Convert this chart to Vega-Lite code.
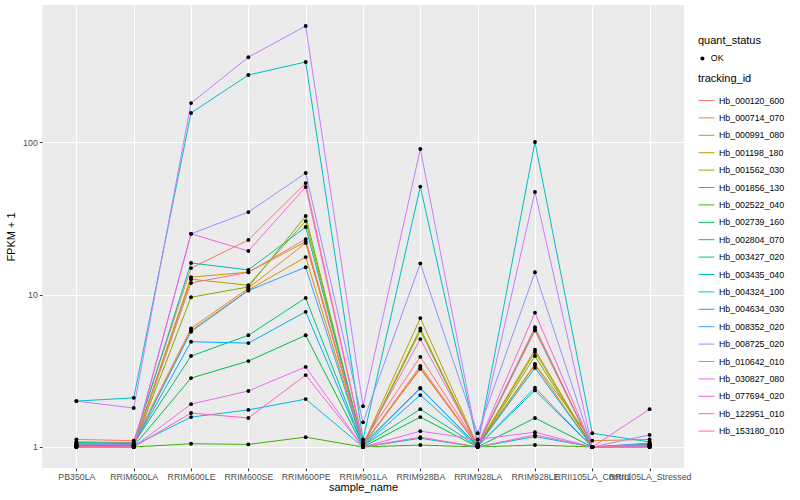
{
"$schema":"https://vega.github.io/schema/vega-lite/v6.json",
"width":642,"height":463,
"padding":{"left":5,"top":5,"right":5,"bottom":5},
"datasets":{"d":[
{"t":"Hb_000120_600","s":"PB350LA","f":1.12},{"t":"Hb_000120_600","s":"RRIM600LA","f":1.10},{"t":"Hb_000120_600","s":"RRIM600LE","f":14.9},{"t":"Hb_000120_600","s":"RRIM600SE","f":22.8},{"t":"Hb_000120_600","s":"RRIM600PE","f":53.8},{"t":"Hb_000120_600","s":"RRIM901LA","f":1.08},{"t":"Hb_000120_600","s":"RRIM928BA","f":3.9},{"t":"Hb_000120_600","s":"RRIM928LA","f":1.03},{"t":"Hb_000120_600","s":"RRIM928LE","f":6.1},{"t":"Hb_000120_600","s":"RRII105LA_Control","f":1.0},{"t":"Hb_000120_600","s":"RRII105LA_Stressed","f":1.04},
{"t":"Hb_000714_070","s":"PB350LA","f":1.08},{"t":"Hb_000714_070","s":"RRIM600LA","f":1.07},{"t":"Hb_000714_070","s":"RRIM600LE","f":6.0},{"t":"Hb_000714_070","s":"RRIM600SE","f":11.0},{"t":"Hb_000714_070","s":"RRIM600PE","f":21.8},{"t":"Hb_000714_070","s":"RRIM901LA","f":1.04},{"t":"Hb_000714_070","s":"RRIM928BA","f":3.25},{"t":"Hb_000714_070","s":"RRIM928LA","f":1.02},{"t":"Hb_000714_070","s":"RRIM928LE","f":3.5},{"t":"Hb_000714_070","s":"RRII105LA_Control","f":1.1},{"t":"Hb_000714_070","s":"RRII105LA_Stressed","f":1.12},
{"t":"Hb_000991_080","s":"PB350LA","f":1.04},{"t":"Hb_000991_080","s":"RRIM600LA","f":1.03},{"t":"Hb_000991_080","s":"RRIM600LE","f":5.8},{"t":"Hb_000991_080","s":"RRIM600SE","f":10.7},{"t":"Hb_000991_080","s":"RRIM600PE","f":17.6},{"t":"Hb_000991_080","s":"RRIM901LA","f":1.02},{"t":"Hb_000991_080","s":"RRIM928BA","f":3.3},{"t":"Hb_000991_080","s":"RRIM928LA","f":1.01},{"t":"Hb_000991_080","s":"RRIM928LE","f":3.45},{"t":"Hb_000991_080","s":"RRII105LA_Control","f":1.0},{"t":"Hb_000991_080","s":"RRII105LA_Stressed","f":1.02},
{"t":"Hb_001198_180","s":"PB350LA","f":1.03},{"t":"Hb_001198_180","s":"RRIM600LA","f":1.02},{"t":"Hb_001198_180","s":"RRIM600LE","f":13.0},{"t":"Hb_001198_180","s":"RRIM600SE","f":14.0},{"t":"Hb_001198_180","s":"RRIM600PE","f":22.2},{"t":"Hb_001198_180","s":"RRIM901LA","f":1.03},{"t":"Hb_001198_180","s":"RRIM928BA","f":7.0},{"t":"Hb_001198_180","s":"RRIM928LA","f":1.02},{"t":"Hb_001198_180","s":"RRIM928LE","f":4.35},{"t":"Hb_001198_180","s":"RRII105LA_Control","f":1.0},{"t":"Hb_001198_180","s":"RRII105LA_Stressed","f":1.05},
{"t":"Hb_001562_030","s":"PB350LA","f":1.02},{"t":"Hb_001562_030","s":"RRIM600LA","f":1.02},{"t":"Hb_001562_030","s":"RRIM600LE","f":12.6},{"t":"Hb_001562_030","s":"RRIM600SE","f":11.5},{"t":"Hb_001562_030","s":"RRIM600PE","f":30.3},{"t":"Hb_001562_030","s":"RRIM901LA","f":1.02},{"t":"Hb_001562_030","s":"RRIM928BA","f":6.0},{"t":"Hb_001562_030","s":"RRIM928LA","f":1.01},{"t":"Hb_001562_030","s":"RRIM928LE","f":4.2},{"t":"Hb_001562_030","s":"RRII105LA_Control","f":1.0},{"t":"Hb_001562_030","s":"RRII105LA_Stressed","f":1.03},
{"t":"Hb_001856_130","s":"PB350LA","f":1.02},{"t":"Hb_001856_130","s":"RRIM600LA","f":1.01},{"t":"Hb_001856_130","s":"RRIM600LE","f":9.6},{"t":"Hb_001856_130","s":"RRIM600SE","f":11.2},{"t":"Hb_001856_130","s":"RRIM600PE","f":32.7},{"t":"Hb_001856_130","s":"RRIM901LA","f":1.01},{"t":"Hb_001856_130","s":"RRIM928BA","f":5.8},{"t":"Hb_001856_130","s":"RRIM928LA","f":1.0},{"t":"Hb_001856_130","s":"RRIM928LE","f":3.95},{"t":"Hb_001856_130","s":"RRII105LA_Control","f":1.0},{"t":"Hb_001856_130","s":"RRII105LA_Stressed","f":1.02},
{"t":"Hb_002522_040","s":"PB350LA","f":1.0},{"t":"Hb_002522_040","s":"RRIM600LA","f":1.0},{"t":"Hb_002522_040","s":"RRIM600LE","f":1.05},{"t":"Hb_002522_040","s":"RRIM600SE","f":1.04},{"t":"Hb_002522_040","s":"RRIM600PE","f":1.16},{"t":"Hb_002522_040","s":"RRIM901LA","f":1.0},{"t":"Hb_002522_040","s":"RRIM928BA","f":1.03},{"t":"Hb_002522_040","s":"RRIM928LA","f":1.0},{"t":"Hb_002522_040","s":"RRIM928LE","f":1.03},{"t":"Hb_002522_040","s":"RRII105LA_Control","f":1.0},{"t":"Hb_002522_040","s":"RRII105LA_Stressed","f":1.0},
{"t":"Hb_002739_160","s":"PB350LA","f":1.01},{"t":"Hb_002739_160","s":"RRIM600LA","f":1.01},{"t":"Hb_002739_160","s":"RRIM600LE","f":2.83},{"t":"Hb_002739_160","s":"RRIM600SE","f":3.66},{"t":"Hb_002739_160","s":"RRIM600PE","f":5.4},{"t":"Hb_002739_160","s":"RRIM901LA","f":1.0},{"t":"Hb_002739_160","s":"RRIM928BA","f":1.57},{"t":"Hb_002739_160","s":"RRIM928LA","f":1.0},{"t":"Hb_002739_160","s":"RRIM928LE","f":1.55},{"t":"Hb_002739_160","s":"RRII105LA_Control","f":1.0},{"t":"Hb_002739_160","s":"RRII105LA_Stressed","f":1.01},
{"t":"Hb_002804_070","s":"PB350LA","f":1.07},{"t":"Hb_002804_070","s":"RRIM600LA","f":1.05},{"t":"Hb_002804_070","s":"RRIM600LE","f":3.95},{"t":"Hb_002804_070","s":"RRIM600SE","f":5.4},{"t":"Hb_002804_070","s":"RRIM600PE","f":9.5},{"t":"Hb_002804_070","s":"RRIM901LA","f":1.02},{"t":"Hb_002804_070","s":"RRIM928BA","f":1.77},{"t":"Hb_002804_070","s":"RRIM928LA","f":1.01},{"t":"Hb_002804_070","s":"RRIM928LE","f":2.35},{"t":"Hb_002804_070","s":"RRII105LA_Control","f":1.0},{"t":"Hb_002804_070","s":"RRII105LA_Stressed","f":1.02},
{"t":"Hb_003427_020","s":"PB350LA","f":1.06},{"t":"Hb_003427_020","s":"RRIM600LA","f":1.06},{"t":"Hb_003427_020","s":"RRIM600LE","f":16.1},{"t":"Hb_003427_020","s":"RRIM600SE","f":14.5},{"t":"Hb_003427_020","s":"RRIM600PE","f":27.7},{"t":"Hb_003427_020","s":"RRIM901LA","f":1.04},{"t":"Hb_003427_020","s":"RRIM928BA","f":2.44},{"t":"Hb_003427_020","s":"RRIM928LA","f":1.02},{"t":"Hb_003427_020","s":"RRIM928LE","f":5.9},{"t":"Hb_003427_020","s":"RRII105LA_Control","f":1.0},{"t":"Hb_003427_020","s":"RRII105LA_Stressed","f":1.04},
{"t":"Hb_003435_040","s":"PB350LA","f":2.0},{"t":"Hb_003435_040","s":"RRIM600LA","f":2.1},{"t":"Hb_003435_040","s":"RRIM600LE","f":155},{"t":"Hb_003435_040","s":"RRIM600SE","f":275},{"t":"Hb_003435_040","s":"RRIM600PE","f":335},{"t":"Hb_003435_040","s":"RRIM901LA","f":1.12},{"t":"Hb_003435_040","s":"RRIM928BA","f":51},{"t":"Hb_003435_040","s":"RRIM928LA","f":1.04},{"t":"Hb_003435_040","s":"RRIM928LE","f":100},{"t":"Hb_003435_040","s":"RRII105LA_Control","f":1.23},{"t":"Hb_003435_040","s":"RRII105LA_Stressed","f":1.08},
{"t":"Hb_004324_100","s":"PB350LA","f":1.01},{"t":"Hb_004324_100","s":"RRIM600LA","f":1.02},{"t":"Hb_004324_100","s":"RRIM600LE","f":1.57},{"t":"Hb_004324_100","s":"RRIM600SE","f":1.75},{"t":"Hb_004324_100","s":"RRIM600PE","f":2.06},{"t":"Hb_004324_100","s":"RRIM901LA","f":1.0},{"t":"Hb_004324_100","s":"RRIM928BA","f":1.14},{"t":"Hb_004324_100","s":"RRIM928LA","f":1.0},{"t":"Hb_004324_100","s":"RRIM928LE","f":1.17},{"t":"Hb_004324_100","s":"RRII105LA_Control","f":1.0},{"t":"Hb_004324_100","s":"RRII105LA_Stressed","f":1.03},
{"t":"Hb_004634_030","s":"PB350LA","f":1.02},{"t":"Hb_004634_030","s":"RRIM600LA","f":1.03},{"t":"Hb_004634_030","s":"RRIM600LE","f":4.9},{"t":"Hb_004634_030","s":"RRIM600SE","f":4.8},{"t":"Hb_004634_030","s":"RRIM600PE","f":7.7},{"t":"Hb_004634_030","s":"RRIM901LA","f":1.01},{"t":"Hb_004634_030","s":"RRIM928BA","f":2.19},{"t":"Hb_004634_030","s":"RRIM928LA","f":1.01},{"t":"Hb_004634_030","s":"RRIM928LE","f":3.3},{"t":"Hb_004634_030","s":"RRII105LA_Control","f":1.0},{"t":"Hb_004634_030","s":"RRII105LA_Stressed","f":1.02},
{"t":"Hb_008352_020","s":"PB350LA","f":1.03},{"t":"Hb_008352_020","s":"RRIM600LA","f":1.04},{"t":"Hb_008352_020","s":"RRIM600LE","f":5.7},{"t":"Hb_008352_020","s":"RRIM600SE","f":10.6},{"t":"Hb_008352_020","s":"RRIM600PE","f":15.1},{"t":"Hb_008352_020","s":"RRIM901LA","f":1.02},{"t":"Hb_008352_020","s":"RRIM928BA","f":2.42},{"t":"Hb_008352_020","s":"RRIM928LA","f":1.01},{"t":"Hb_008352_020","s":"RRIM928LE","f":2.45},{"t":"Hb_008352_020","s":"RRII105LA_Control","f":1.0},{"t":"Hb_008352_020","s":"RRII105LA_Stressed","f":1.06},
{"t":"Hb_008725_020","s":"PB350LA","f":1.05},{"t":"Hb_008725_020","s":"RRIM600LA","f":1.03},{"t":"Hb_008725_020","s":"RRIM600LE","f":25},{"t":"Hb_008725_020","s":"RRIM600SE","f":34.7},{"t":"Hb_008725_020","s":"RRIM600PE","f":62.6},{"t":"Hb_008725_020","s":"RRIM901LA","f":1.45},{"t":"Hb_008725_020","s":"RRIM928BA","f":16},{"t":"Hb_008725_020","s":"RRIM928LA","f":1.23},{"t":"Hb_008725_020","s":"RRIM928LE","f":14},{"t":"Hb_008725_020","s":"RRII105LA_Control","f":1.0},{"t":"Hb_008725_020","s":"RRII105LA_Stressed","f":1.2},
{"t":"Hb_010642_010","s":"PB350LA","f":2.0},{"t":"Hb_010642_010","s":"RRIM600LA","f":1.8},{"t":"Hb_010642_010","s":"RRIM600LE","f":180},{"t":"Hb_010642_010","s":"RRIM600SE","f":360},{"t":"Hb_010642_010","s":"RRIM600PE","f":577},{"t":"Hb_010642_010","s":"RRIM901LA","f":1.85},{"t":"Hb_010642_010","s":"RRIM928BA","f":90},{"t":"Hb_010642_010","s":"RRIM928LA","f":1.05},{"t":"Hb_010642_010","s":"RRIM928LE","f":47},{"t":"Hb_010642_010","s":"RRII105LA_Control","f":1.0},{"t":"Hb_010642_010","s":"RRII105LA_Stressed","f":1.0},
{"t":"Hb_030827_080","s":"PB350LA","f":1.0},{"t":"Hb_030827_080","s":"RRIM600LA","f":1.0},{"t":"Hb_030827_080","s":"RRIM600LE","f":1.91},{"t":"Hb_030827_080","s":"RRIM600SE","f":2.33},{"t":"Hb_030827_080","s":"RRIM600PE","f":3.35},{"t":"Hb_030827_080","s":"RRIM901LA","f":1.0},{"t":"Hb_030827_080","s":"RRIM928BA","f":1.27},{"t":"Hb_030827_080","s":"RRIM928LA","f":1.12},{"t":"Hb_030827_080","s":"RRIM928LE","f":1.25},{"t":"Hb_030827_080","s":"RRII105LA_Control","f":1.0},{"t":"Hb_030827_080","s":"RRII105LA_Stressed","f":1.0},
{"t":"Hb_077694_020","s":"PB350LA","f":1.0},{"t":"Hb_077694_020","s":"RRIM600LA","f":1.0},{"t":"Hb_077694_020","s":"RRIM600LE","f":25},{"t":"Hb_077694_020","s":"RRIM600SE","f":19.3},{"t":"Hb_077694_020","s":"RRIM600PE","f":50.7},{"t":"Hb_077694_020","s":"RRIM901LA","f":1.06},{"t":"Hb_077694_020","s":"RRIM928BA","f":5.1},{"t":"Hb_077694_020","s":"RRIM928LA","f":1.03},{"t":"Hb_077694_020","s":"RRIM928LE","f":7.6},{"t":"Hb_077694_020","s":"RRII105LA_Control","f":1.0},{"t":"Hb_077694_020","s":"RRII105LA_Stressed","f":1.77},
{"t":"Hb_122951_010","s":"PB350LA","f":1.0},{"t":"Hb_122951_010","s":"RRIM600LA","f":1.0},{"t":"Hb_122951_010","s":"RRIM600LE","f":1.67},{"t":"Hb_122951_010","s":"RRIM600SE","f":1.55},{"t":"Hb_122951_010","s":"RRIM600PE","f":2.96},{"t":"Hb_122951_010","s":"RRIM901LA","f":1.0},{"t":"Hb_122951_010","s":"RRIM928BA","f":1.16},{"t":"Hb_122951_010","s":"RRIM928LA","f":1.0},{"t":"Hb_122951_010","s":"RRIM928LE","f":1.2},{"t":"Hb_122951_010","s":"RRII105LA_Control","f":1.0},{"t":"Hb_122951_010","s":"RRII105LA_Stressed","f":1.0},
{"t":"Hb_153180_010","s":"PB350LA","f":1.01},{"t":"Hb_153180_010","s":"RRIM600LA","f":1.0},{"t":"Hb_153180_010","s":"RRIM600LE","f":11.9},{"t":"Hb_153180_010","s":"RRIM600SE","f":14.0},{"t":"Hb_153180_010","s":"RRIM600PE","f":23.1},{"t":"Hb_153180_010","s":"RRIM901LA","f":1.03},{"t":"Hb_153180_010","s":"RRIM928BA","f":3.4},{"t":"Hb_153180_010","s":"RRIM928LA","f":1.02},{"t":"Hb_153180_010","s":"RRIM928LE","f":5.8},{"t":"Hb_153180_010","s":"RRII105LA_Control","f":1.0},{"t":"Hb_153180_010","s":"RRII105LA_Stressed","f":1.03}
]},
"data":{"name":"d"},
"encoding":{
 "x":{"field":"s","type":"ordinal","sort":["PB350LA","RRIM600LA","RRIM600LE","RRIM600SE","RRIM600PE","RRIM901LA","RRIM928BA","RRIM928LA","RRIM928LE","RRII105LA_Control","RRII105LA_Stressed"],"scale":{"type":"point","padding":0.6},"axis":{"title":"sample_name","labelAngle":0,"labelOverlap":false,"titlePadding":0}}
},
"layer":[
 {"mark":{"type":"line","strokeWidth":1,"clip":true},
  "encoding":{
   "y":{"field":"f","type":"quantitative","scale":{"type":"log","domain":[0.728,792],"nice":false},"axis":{"values":[1,10,100],"format":"~g","title":"FPKM + 1","titlePadding":6}},
   "color":{"field":"t","type":"nominal","title":"tracking_id","scale":{"domain":["Hb_000120_600","Hb_000714_070","Hb_000991_080","Hb_001198_180","Hb_001562_030","Hb_001856_130","Hb_002522_040","Hb_002739_160","Hb_002804_070","Hb_003427_020","Hb_003435_040","Hb_004324_100","Hb_004634_030","Hb_008352_020","Hb_008725_020","Hb_010642_010","Hb_030827_080","Hb_077694_020","Hb_122951_010","Hb_153180_010"],"range":["#F8766D","#EA8331","#D89000","#C09B00","#A3A500","#7CAE00","#39B600","#00BB4E","#00BF7D","#00C1A3","#00BFC4","#00BAE0","#00B0F6","#35A2FF","#9590FF","#C77CFF","#E76BF3","#FA62DB","#FF62BC","#FF6C91"]},
     "legend":{"orient":"none","legendX":656,"legendY":68,"symbolSize":250,"rowPadding":3.4,"symbolStrokeWidth":1}}
  }},
 {"mark":{"type":"point","filled":true,"color":"#000000","size":15,"opacity":1},
  "encoding":{
   "y":{"field":"f","type":"quantitative","axis":{"values":[3.1623,31.623,316.23],"labels":false,"ticks":false,"title":null,"gridWidth":0.53,"orient":"left"}},
   "shape":{"datum":"OK","title":"quant_status","scale":{"range":["circle"]},"legend":{"orient":"none","legendX":656,"legendY":30,"symbolSize":16,"symbolFillColor":"#000000"}}
  }}
],
"resolve":{"axis":{"y":"independent"}},
"config":{
 "font":"Liberation Sans",
 "view":{"fill":"#EBEBEB","stroke":null},
 "axis":{"grid":true,"gridColor":"#FFFFFF","gridWidth":1.07,"domain":false,"tickColor":"#333333","tickSize":2.7,"tickWidth":1.07,"labelColor":"#4D4D4D","labelFontSize":8.8,"titleFontSize":11,"titleFontWeight":"normal","titleColor":"#000000","labelPadding":2},
 "legend":{"titleFontSize":11,"titleFontWeight":"normal","titleColor":"#000000","labelFontSize":8.8,"labelColor":"#000000","padding":0,"titlePadding":8,"labelOffset":4}
}
}
